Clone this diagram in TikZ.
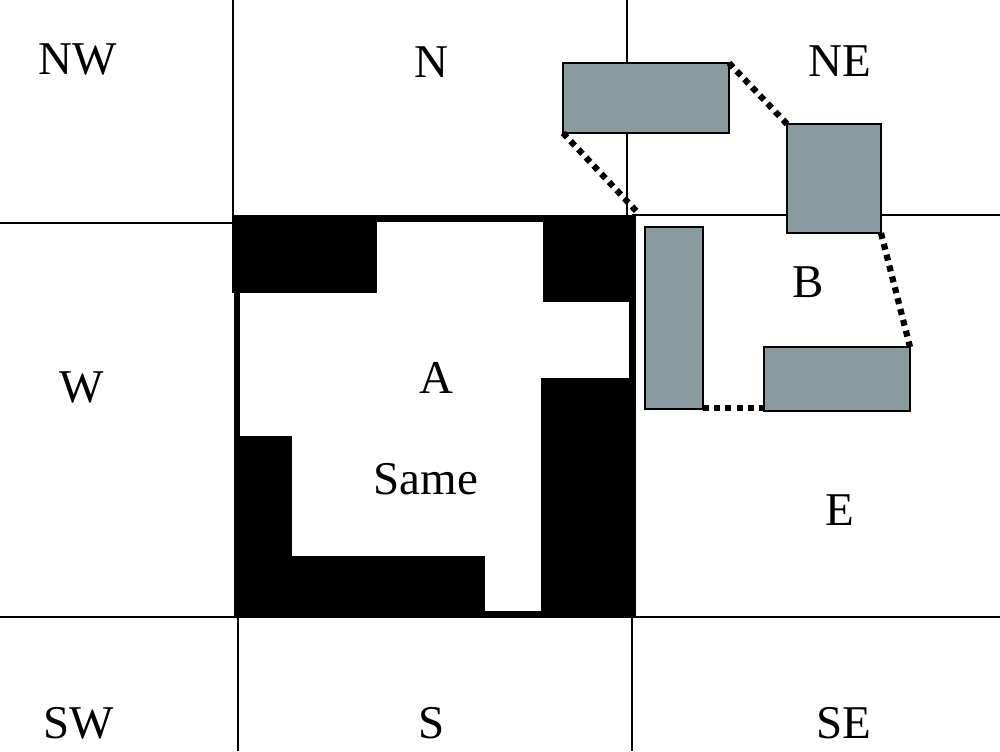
\documentclass[tikz,border=0pt]{standalone}
\usepackage{fontspec}
\setmainfont{Liberation Serif}
\definecolor{boxgray}{RGB}{138,155,160}
\begin{document}
\begin{tikzpicture}[x=0.5pt,y=-0.5pt,
  gridline/.style={line width=0.75pt,black},
  blackfill/.style={fill=black,draw=none},
  frame/.style={line width=3.2pt,black},
  grayrect/.style={draw=black,line width=0.85pt,fill=boxgray,inner sep=0pt,outer sep=0pt},
  dotline/.style={line width=3.1pt,dash pattern=on 3pt off 2.6pt},
  lbl/.style={anchor=base,inner sep=0pt,font=\fontsize{23.5}{28}\selectfont}]
\useasboundingbox (0,0) rectangle (1000,751);
\fill[white] (0,0) rectangle (1000,751);
% grid lines
\draw[gridline] (233,0) -- (233,218);
\draw[gridline] (0,223) -- (236,223);
\draw[gridline] (627,0) -- (627,218);
\draw[gridline] (632,215) -- (1000,215);
\draw[gridline] (0,617) -- (1000,617);
\draw[gridline] (238,617) -- (238,751);
\draw[gridline] (632,617) -- (632,751);
% black regions of A
\fill[blackfill] (232,217) rectangle (377,293);
\fill[blackfill] (543,215) rectangle (635,302);
\fill[blackfill] (541,378) rectangle (635,617);
\fill[blackfill] (235,436) rectangle (292,617);
\fill[blackfill] (235,556) rectangle (485,617);
\draw[frame] (237,218.5) rectangle (632.5,614.5);
% gray rectangles of B
\node[grayrect,minimum width=83pt,minimum height=35pt] (r1) at (646,98) {};
\node[grayrect,minimum width=47pt,minimum height=54.5pt] (r2) at (834,178.5) {};
\node[grayrect,minimum width=29pt,minimum height=91pt] (r3) at (674,318) {};
\node[grayrect,minimum width=73pt,minimum height=32pt] (r4) at (837,379) {};
\coordinate (corner) at (639,214);
% dotted connectors
\draw[dotline] (r1.south west) -- (corner);
\draw[dotline] (r1.north east) -- (r2.north west);
\draw[dotline] (r2.south east) -- (r4.north east);
\draw[dotline] ([yshift=0.5pt]r3.south east) -- ([yshift=0.5pt]r3.south east -| r4.west);
% labels
\node[lbl] (nw) at (78,74) {NW};
\node[lbl] (n) at (431,77) {N};
\node[lbl] (ne) at (840,76) {NE};
\node[lbl] (w) at (82,402) {W};
\node[lbl] (a) at (436,393) {A};
\node[lbl] (same) at (426,494) {Same};
\node[lbl] (b) at (808,297) {B};
\node[lbl] (e) at (840,525) {E};
\node[lbl] (sw) at (79,738) {SW};
\node[lbl] (s) at (432,738) {S};
\node[lbl] (se) at (844,738) {SE};
\end{tikzpicture}
\end{document}
